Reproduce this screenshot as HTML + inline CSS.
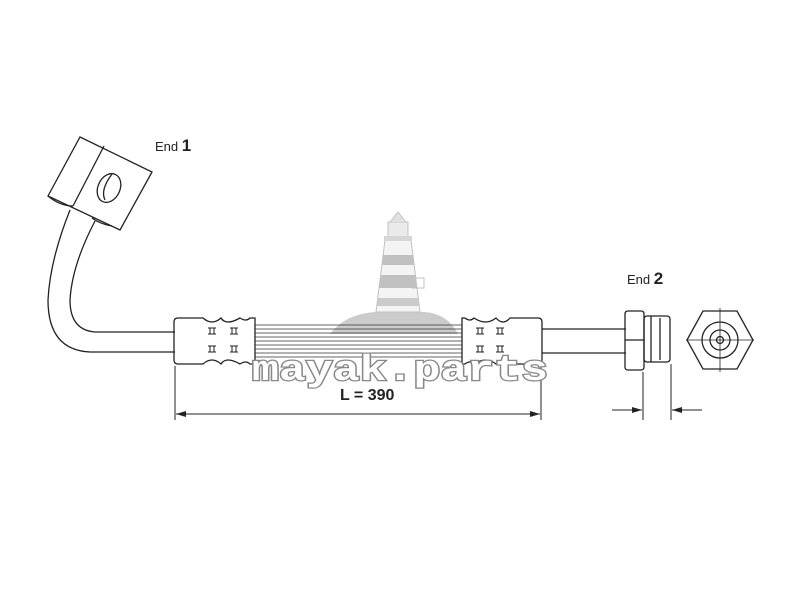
<!DOCTYPE html>
<html><head><meta charset="utf-8"><style>
html,body{margin:0;padding:0;background:#fff}
svg{display:block}
</style></head><body>
<svg width="798" height="600" viewBox="0 0 798 600" xmlns="http://www.w3.org/2000/svg">
<defs>
<marker id="ar" viewBox="0 0 10 6" refX="10" refY="3" markerWidth="10" markerHeight="6" orient="auto" markerUnits="userSpaceOnUse"><path d="M0,0 L10,3 L0,6 z" fill="#222"/></marker>
</defs>
<g opacity="0.6">
<path d="M330,334 Q345,314 375,312 L425,312 Q448,314 458,334 Z" fill="#aaa"/>
<polygon points="385,240 411,240 420,312 376,312" fill="#eee" stroke="#999"/>
<polygon points="383,255 413,255 414,265 382,265" fill="#999"/>
<polygon points="381,275 415,275 417,288 379,288" fill="#999"/>
<polygon points="378,298 418,298 419,306 377,306" fill="#aaa"/>
<rect x="388" y="222" width="20" height="18" fill="#ddd" stroke="#999"/>
<rect x="384" y="236" width="28" height="5" fill="#bbb"/>
<path d="M390,222 L398,212 L406,222" fill="#ccc" stroke="#999"/>
<rect x="412" y="278" width="12" height="10" fill="none" stroke="#999"/>
</g>
<g fill="none" stroke="#222" stroke-width="1.3">
<polygon points="48,196 80,137 152,172 120,230"/>
<line x1="73" y1="206" x2="104" y2="146"/>
<path d="M48,196 Q60,206 73,206"/>
<ellipse cx="109" cy="188" rx="11" ry="15" transform="rotate(25 109 188)"/>
<path d="M105,200 Q100,190 112,174"/>
<path d="M70,210 Q50,260 48,300 Q48,350 90,352 L175,352"/>
<path d="M95,221 Q72,265 70,300 Q70,330 95,332 L175,332"/>
<path d="M92,218 Q100,224 112,226"/>
<path d="M178,318 L203,318 Q212,326 221,318 Q226,326 240,318 Q246,322 250,318 L255,318 L255,364 L250,364 Q246,360 240,364 Q226,356 221,364 Q212,356 203,364 L178,364 Q174,364 174,360 L174,322 Q174,318 178,318 Z"/>
<path d="M465,318 Q470,322 474,318 Q486,326 496,318 Q503,326 510,318 L538,318 Q542,318 542,322 L542,360 Q542,364 538,364 L510,364 Q503,356 496,364 Q486,356 474,364 Q470,360 465,364 L462,364 L462,318 Z"/>
</g>
<g stroke="#222" stroke-width="1">
<g id="gr"><line x1="208" y1="328" x2="216" y2="328"/><line x1="210" y1="328" x2="210" y2="334"/><line x1="214" y1="328" x2="214" y2="334"/><line x1="208" y1="334" x2="216" y2="334"/><line x1="208" y1="346" x2="216" y2="346"/><line x1="210" y1="346" x2="210" y2="352"/><line x1="214" y1="346" x2="214" y2="352"/><line x1="208" y1="352" x2="216" y2="352"/></g>
<use href="#gr" x="22"/><use href="#gr" x="268"/><use href="#gr" x="288"/>
</g>
<g stroke="#333" stroke-width="0.8">
<line x1="255" y1="325" x2="462" y2="325"/><line x1="255" y1="329" x2="462" y2="329"/><line x1="255" y1="333" x2="462" y2="333"/><line x1="255" y1="337" x2="462" y2="337"/><line x1="255" y1="341" x2="462" y2="341"/><line x1="255" y1="345" x2="462" y2="345"/><line x1="255" y1="349" x2="462" y2="349"/><line x1="255" y1="353" x2="462" y2="353"/><line x1="255" y1="357" x2="462" y2="357"/>
</g>
<g fill="none" stroke="#222" stroke-width="1.3">
<line x1="542" y1="329" x2="626" y2="329"/><line x1="542" y1="353" x2="626" y2="353"/>
<path d="M628,311 L641,311 Q644,311 644,314 L644,367 Q644,370 641,370 L628,370 Q625,370 625,367 L625,314 Q625,311 628,311 Z"/>
<line x1="625" y1="340" x2="644" y2="340"/>
<rect x="644" y="316" width="26" height="46" rx="3"/>
<line x1="651" y1="316" x2="651" y2="362"/><line x1="660" y1="318" x2="660" y2="360"/>
<polygon points="687,340 703,311 737,311 753,340 737,369 703,369"/>
<circle cx="720" cy="340" r="18"/><circle cx="720" cy="340" r="10"/><circle cx="720" cy="340" r="3.5"/>
<line x1="686" y1="340" x2="754" y2="340" stroke-width="0.8"/><line x1="720" y1="308" x2="720" y2="372" stroke-width="0.8"/>
</g>
<g stroke="#222" stroke-width="1">
<line x1="175" y1="366" x2="175" y2="420"/><line x1="541" y1="366" x2="541" y2="420"/>
<line x1="358" y1="414" x2="176" y2="414" marker-end="url(#ar)"/>
<line x1="358" y1="414" x2="540" y2="414" marker-end="url(#ar)"/>
<line x1="643" y1="372" x2="643" y2="420"/><line x1="671" y1="364" x2="671" y2="420"/>
<line x1="612" y1="410" x2="642" y2="410" marker-end="url(#ar)"/>
<line x1="702" y1="410" x2="672" y2="410" marker-end="url(#ar)"/>
</g>
<text x="340" y="400" font-family="Liberation Sans, sans-serif" font-size="16" font-weight="bold" fill="#222">L = 390</text>
<text x="155" y="151" font-family="Liberation Sans, sans-serif" font-size="13" fill="#222">End <tspan font-size="17" font-weight="bold">1</tspan></text>
<text x="627" y="284" font-family="Liberation Sans, sans-serif" font-size="13" fill="#222">End <tspan font-size="17" font-weight="bold">2</tspan></text>
<text x="252" y="380" font-family="Liberation Mono, monospace" font-size="36" font-weight="bold" fill="#fff" stroke="#888" stroke-width="2.5" paint-order="stroke" textLength="296" lengthAdjust="spacingAndGlyphs">mayak.parts</text>
</svg>
</body></html>
